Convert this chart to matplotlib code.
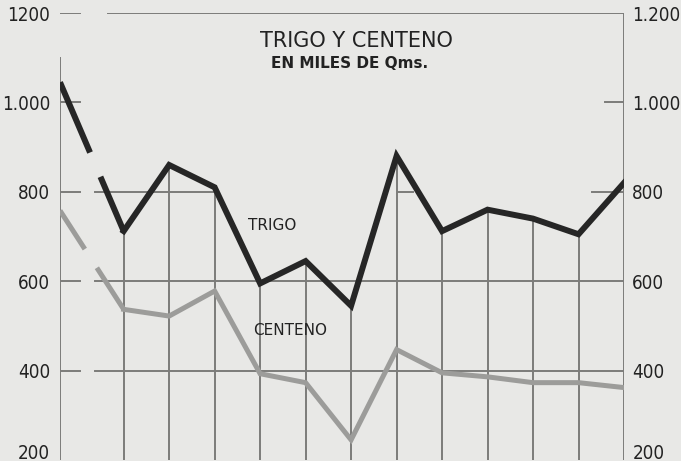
import matplotlib
matplotlib.use("Agg")
import matplotlib.pyplot as plt
from matplotlib import font_manager as fm
from matplotlib.transforms import ScaledTranslation

# ---- data ----
periods = [-1.4, 0, 1, 2, 3, 4, 5, 6, 7, 8, 9, 10, 11]
trigo = [1045, 712, 860, 810, 595, 645, 545, 880, 712, 760, 740, 705, 820]
centeno = [758, 537, 522, 578, 393, 373, 245, 447, 395, 386, 373, 373, 362]
yticks = [200, 400, 600, 800, 1000, 1200]
left_labels = ["200", "400", "600", "800", "1.000", "1200"]
right_labels = ["200", "400", "600", "800", "1.000", "1.200"]
title = "TRIGO Y CENTENO"
subtitle = "EN MILES DE Qms."

BG = "#e8e8e6"
GRID = "#7c7c7a"
DARK = "#262626"
GREY = "#9c9c9a"

# pick a narrow face for the numbers if one is installed
num_prop = None
for f in fm.fontManager.ttflist:
    n = f.name.lower()
    st = str(f.stretch).lower()
    if ("narrow" in n or "condensed" in n or st in ("condensed", "semi-condensed", "extra-condensed", "600", "500", "700")) \
            and "bold" not in str(f.weight).lower() and f.style == "normal" and str(f.weight) in ("400", "normal", "regular"):
        num_prop = fm.FontProperties(fname=f.fname)
        break
if num_prop is None:
    num_prop = fm.FontProperties(family="DejaVu Sans")
    NUM_SIZE = 12
else:
    NUM_SIZE = 13.5
num_prop.set_size(NUM_SIZE)

plt.rcParams["lines.scale_dashes"] = False

fig = plt.figure(figsize=(6.81, 4.61), dpi=100, facecolor=BG)
ax = fig.add_axes([0.0881, 0.0022, 0.8282, 0.9696])
ax.set_facecolor(BG)
x0, x1 = periods[0], periods[-1]
ax.set_xlim(x0, x1)
ax.set_ylim(200, 1200)
for s in ax.spines.values():
    s.set_visible(False)
ax.set_xticks([])

gkw = dict(color=GRID, lw=1.4, zorder=1)
# frame pieces
ax.plot([x0, x0], [200, 1100], **gkw)
ax.plot([x1, x1], [200, 1200], **gkw)
ax.plot([-0.35, x1], [1200, 1200], **gkw)
ax.plot([x0, -0.97], [1200, 1200], **gkw)
# horizontal grid pieces
for yv in (400, 600):
    ax.plot([x0, -0.97], [yv, yv], **gkw)
    ax.plot([-0.64, x1], [yv, yv], **gkw)
ax.plot([x0, -0.97], [800, 800], **gkw)
ax.plot([-0.64, 2.02], [800, 800], **gkw)
ax.plot([6.03, 6.36], [800, 800], **gkw)
ax.plot([10.3, x1], [800, 800], **gkw)
ax.plot([x0, -0.97], [1000, 1000], **gkw)
ax.plot([10.58, x1], [1000, 1000], **gkw)
# vertical lines from the base up to the wheat line
ax.vlines(periods[1:-1], 200, trigo[1:-1], colors=GRID, lw=1.4, zorder=1)

# series: first segment interrupted
ax.plot(periods[:2], centeno[:2], color=GREY, lw=3.6,
        linestyle=(0, (33, 16, 80, 0)), dash_capstyle="butt", zorder=3)
ax.plot(periods[1:], centeno[1:], color=GREY, lw=3.6, solid_joinstyle="miter", zorder=3)
ax.plot(periods[:2], trigo[:2], color=DARK, lw=4.3,
        linestyle=(0, (55, 19, 90, 0)), dash_capstyle="butt", zorder=4)
ax.plot(periods[1:], trigo[1:], color=DARK, lw=4.3, solid_joinstyle="miter", zorder=4)

# tick labels
ax.set_yticks(yticks)
ax.set_yticklabels(left_labels, fontproperties=num_prop, color="#222222")
ax.tick_params(axis="y", length=0, pad=7)
ax2 = ax.twinx()
ax2.set_ylim(200, 1200)
for s in ax2.spines.values():
    s.set_visible(False)
ax2.set_yticks(yticks)
ax2.set_yticklabels(right_labels, fontproperties=num_prop, color="#222222")
ax2.tick_params(axis="y", length=0, pad=6)

# lift the bottom labels a little, as on the original
lift = ScaledTranslation(0, 8 / 100, fig.dpi_scale_trans)
for a in (ax, ax2):
    lab = a.get_yticklabels()[0]
    lab.set_transform(lab.get_transform() + lift)

# titles & labels
fig.text(0.524, 0.911, title, ha="center", va="center", fontsize=15, color="#222222")
fig.text(0.514, 0.863, subtitle, ha="center", va="center", fontsize=11,
         fontweight="bold", color="#222222")
ax.text(3.26, 725, "TRIGO", ha="center", va="center", fontsize=11, color="#222222")
ax.text(3.65, 489, "CENTENO", ha="center", va="center", fontsize=11, color="#222222")

fig.savefig("out.png", dpi=100, facecolor=BG)
